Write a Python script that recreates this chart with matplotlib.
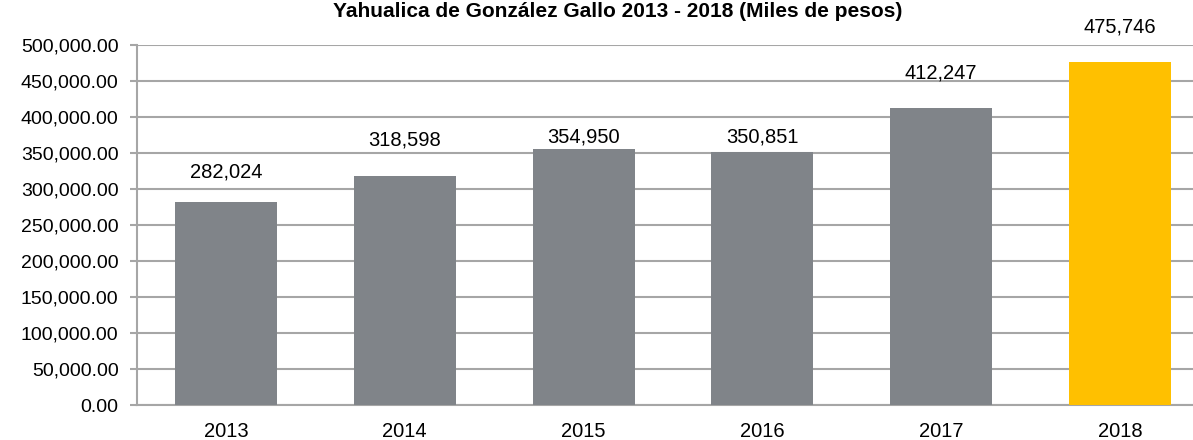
import matplotlib
matplotlib.use("Agg")
import matplotlib.pyplot as plt
from matplotlib.ticker import FuncFormatter

years = ["2013", "2014", "2015", "2016", "2017", "2018"]
values = [282024, 318598, 354950, 350851, 412247, 475746]
labels = ["282,024", "318,598", "354,950", "350,851", "412,247", "475,746"]
colors = ["#808489", "#808489", "#808489", "#808489", "#808489", "#FFC000"]
title = "Yahualica de González Gallo 2013 - 2018 (Miles de pesos)"

# layout: baselines of the manually placed value labels (data units)
label_baselines = [315300, 361100, 363900, 363900, 452800, 518000]

plt.rcParams["font.family"] = ["Liberation Sans", "DejaVu Sans"]

W, H = 1193, 440
fig = plt.figure(figsize=(W / 100, H / 100), dpi=100)
left_px, right_px, top_px, bot_px = 136.6, 1209.4, 45, 405
ax = fig.add_axes([left_px / W, 1 - bot_px / H, (right_px - left_px) / W, (bot_px - top_px) / H])

x = list(range(len(years)))
bars = ax.bar(x, values, width=0.57, color=colors, zorder=3)
ax.set_xlim(-0.5, len(years) - 0.5)
ax.set_ylim(0, 500000)
ax.set_yticks(range(0, 500001, 50000))
ax.yaxis.set_major_formatter(FuncFormatter(lambda v, p: f"{v:,.2f}"))
ax.set_xticks(x)
ax.set_xticklabels(years)

ax.grid(axis="y", color="#A6A6A6", linewidth=1.5, zorder=0)
for s in ["top", "right"]:
    ax.spines[s].set_visible(False)
for s in ["left", "bottom"]:
    ax.spines[s].set_color("#A6A6A6")
    ax.spines[s].set_linewidth(1.5)
ax.tick_params(axis="y", length=5, width=1.5, color="#A6A6A6", labelsize=14, pad=8, labelcolor="#000000")
ax.tick_params(axis="x", length=0, labelsize=14.5, pad=12, labelcolor="#000000")

for b, lab, yb in zip(bars, labels, label_baselines):
    ax.text(b.get_x() + b.get_width() / 2, yb, lab, ha="center", va="baseline",
            fontsize=14.5, color="#000000", clip_on=False)

fig.text(618 / W, 1 - 17 / H, title, ha="center", va="baseline",
         fontsize=15, fontweight="bold", color="#000000")

fig.savefig("out.png", dpi=100)
